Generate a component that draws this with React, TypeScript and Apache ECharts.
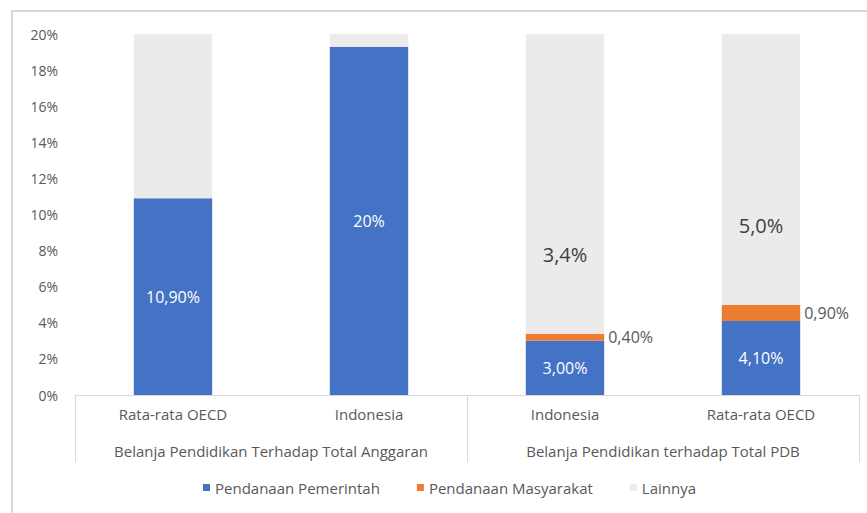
import React, { useEffect, useRef } from "react";
import * as echarts from "echarts";

const categories = ["Rata-rata OECD", "Indonesia", "Indonesia", "Rata-rata OECD"];
const groups = ["Belanja Pendidikan Terhadap Total Anggaran", "Belanja Pendidikan terhadap Total PDB"];
const seriesNames = ["Pendanaan Pemerintah", "Pendanaan Masyarakat", "Lainnya"];
const pemerintah = [10.9, 19.3, 3.0, 4.1];
const masyarakat = [0, 0, 0.4, 0.9];
const lainnya = [9.1, 0.7, 16.6, 15.0];
const pemerintahLabels = ["10,90%", "20%", "3,00%", "4,10%"];
const masyarakatLabels = ["", "", "0,40%", "0,90%"];
const lainnyaLabels = ["", "", "3,4%", "5,0%"];
const yTicks = { min: 0, max: 20, interval: 2 };

const FONT = "'Open Sans', sans-serif";
const TXT = "#595959";

export default function App() {
  const ref = useRef<HTMLDivElement>(null);
  useEffect(() => {
    if (!ref.current) return;
    const chart = echarts.init(ref.current, undefined, { renderer: "svg" });
    chart.setOption({
      animation: false,
      backgroundColor: "#ffffff",
      textStyle: { fontFamily: FONT },
      graphic: [
        {
          type: "rect",
          shape: { x: 12, y: 11, width: 900, height: 600 },
          style: { fill: "none", stroke: "#d9d9d9", lineWidth: 2 },
          silent: true,
          z: -10,
        },
      ],
      grid: { left: 75, right: 8, top: 34, bottom: 118, containLabel: false },
      legend: {
        data: seriesNames,
        bottom: 13,
        left: 198,
        icon: "rect",
        itemWidth: 7,
        itemHeight: 7,
        itemGap: 37,
        textStyle: { color: TXT, fontSize: 15, fontFamily: FONT },
      },
      xAxis: [
        {
          type: "category",
          data: categories,
          position: "bottom",
          axisLine: { show: true, lineStyle: { color: "#d9d9d9", width: 1 } },
          axisTick: { show: false },
          axisLabel: { color: TXT, fontSize: 15, margin: 11, fontFamily: FONT, interval: 0 },
        },
        {
          type: "category",
          data: groups,
          position: "bottom",
          axisLine: { show: false },
          axisTick: { show: true, length: 67, lineStyle: { color: "#d9d9d9" } },
          axisLabel: { color: TXT, fontSize: 15, margin: 48, fontFamily: FONT, interval: 0 },
        },
      ],
      yAxis: {
        type: "value",
        min: yTicks.min,
        max: yTicks.max,
        interval: yTicks.interval,
        axisLine: { show: false },
        axisTick: { show: false },
        splitLine: { show: false },
        axisLabel: { color: TXT, fontSize: 14, margin: 17, fontFamily: FONT, formatter: "{value}%" },
      },
      series: [
        {
          name: seriesNames[0],
          type: "bar",
          stack: "s",
          barWidth: "40%",
          data: pemerintah,
          itemStyle: { color: "#4472C4" },
          label: {
            show: true,
            position: "inside",
            color: "#ffffff",
            fontSize: 16,
            fontFamily: FONT,
            formatter: (p: any) => pemerintahLabels[p.dataIndex],
          },
        },
        {
          name: seriesNames[1],
          type: "bar",
          stack: "s",
          data: masyarakat,
          itemStyle: { color: "#ED7D31" },
          label: {
            show: true,
            position: "right",
            distance: 4,
            color: TXT,
            fontSize: 16,
            fontFamily: FONT,
            formatter: (p: any) => masyarakatLabels[p.dataIndex],
          },
        },
        {
          name: seriesNames[2],
          type: "bar",
          stack: "s",
          data: lainnya,
          itemStyle: { color: "#EBEBEB" },
          label: {
            show: true,
            position: "insideBottom",
            distance: 69,
            color: "#404040",
            fontSize: 20,
            fontFamily: FONT,
            formatter: (p: any) => lainnyaLabels[p.dataIndex],
          },
        },
      ],
    });
    return () => chart.dispose();
  }, []);
  return (
    <div
      ref={ref}
      style={{ position: "fixed", left: 0, top: 0, width: 867, height: 513, background: "#fff" }}
    />
  );
}
